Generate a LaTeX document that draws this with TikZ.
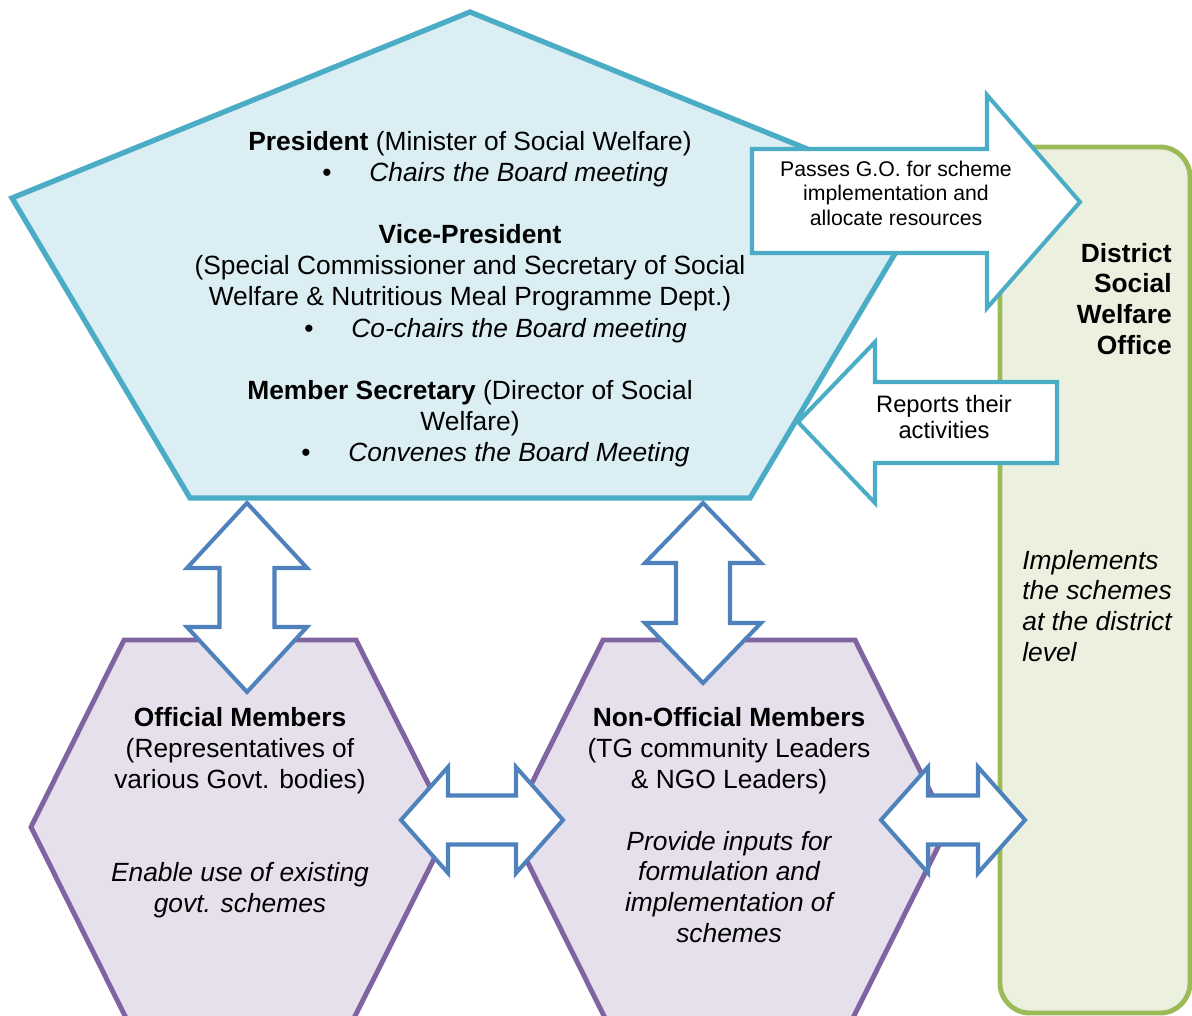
\documentclass[tikz,border=0pt]{standalone}
\usepackage{fontspec}
\setmainfont{Liberation Sans}
\definecolor{boardline}{HTML}{4BACC6}
\definecolor{boardfill}{HTML}{DBEEF4}
\definecolor{memberline}{HTML}{8064A2}
\definecolor{memberfill}{HTML}{E5E0EC}
\definecolor{officeline}{HTML}{9BBB59}
\definecolor{officefill}{HTML}{EBF1DE}
\definecolor{linkline}{HTML}{4F81BD}

\begin{document}
\begin{tikzpicture}[x=0.02cm,y=-0.02cm]

	\tikzset{
	  board/.style={draw=boardline,fill=boardfill,line width=3pt},
	  member/.style={draw=memberline,fill=memberfill,line width=2.8pt},
	  office/.style={draw=officeline,fill=officefill,line width=2.8pt,rounded corners=17pt},
	  flow/.style={draw=boardline,fill=white,line width=2.3pt},
	  link/.style={draw=linkline,fill=white,line width=2.3pt},
	  txt/.style={inner sep=0pt,align=center,font=\fontsize{15}{17.6}\selectfont},
	  item/.style={txt,anchor=west,font=\fontsize{15}{17.6}\selectfont\itshape},
	}
	\useasboundingbox (0,0) rectangle (1192,1016);
	\clip (0,0) rectangle (1192,1016);
	% shapes
	\draw[board] (470,12) -- (928,198) -- (750,498) -- (190,498) -- (12,198) -- cycle;
	\draw[office] (1000,147) rectangle (1190,1013);
	\draw[member] (124,640) -- (356,640) -- (450,827) -- (348,1030) -- (132,1030) -- (31,827) -- cycle;
	\draw[member] (603,640) -- (855,640) -- (948,827) -- (847,1030) -- (611,1030) -- (510,827) -- cycle;
	% board <-> district office
	\draw[flow] (752,149) -- (987,149) -- (987,95) -- (1080,202) -- (987,308) -- (987,253) -- (752,253) -- cycle;
	\draw[flow] (1057,382) -- (875,382) -- (875,342) -- (798,422) -- (875,503) -- (875,463) -- (1057,463) -- cycle;
	% two way links
	\draw[link] (247,503) -- ++(60,65) -- ++(-32.5,0) -- ++(0,59) -- ++(32.5,0) -- ++(-60,65) -- ++(-60,-65) -- ++(32.5,0) -- ++(0,-59) -- ++(-32.5,0) -- cycle;
	\draw[link] (703,503) -- ++(58,60) -- ++(-31,0) -- ++(0,60) -- ++(31,0) -- ++(-58,60) -- ++(-58,-60) -- ++(31,0) -- ++(0,-60) -- ++(-31,0) -- cycle;
	\draw[link] (401,820) -- ++(47,-53) -- ++(0,28.5) -- ++(68,0) -- ++(0,-28.5) -- ++(47,53) -- ++(-47,53) -- ++(0,-28.5) -- ++(-68,0) -- ++(0,28.5) -- cycle;
	\draw[link] (881,820) -- ++(47,-53) -- ++(0,28.5) -- ++(50,0) -- ++(0,-28.5) -- ++(47,53) -- ++(-47,53) -- ++(0,-28.5) -- ++(-50,0) -- ++(0,28.5) -- cycle;

	% board members
	\node[txt] (president) at (470,144) {\textbf{President} (Minister of Social Welfare)};
	\node[item] (chairs) at (369,175) {\llap{\upshape\textbullet\hspace{21.5pt}}Chairs the Board meeting};
	\node[txt] (vicepres) at (470,268) {\textbf{Vice-President}\\(Special Commissioner and Secretary of Social\\Welfare \& Nutritious Meal Programme Dept.)};
	\node[item] (cochairs) at (351,331) {\llap{\upshape\textbullet\hspace{21.5pt}}Co-chairs the Board meeting};
	\node[txt] (memsec) at (470,408) {\textbf{Member Secretary} (Director of Social\\Welfare)};
	\node[item] (convenes) at (348,455) {\llap{\upshape\textbullet\hspace{21.5pt}}Convenes the Board Meeting};

	\node[txt,font=\fontsize{12.1}{13.9}\selectfont] (passes) at (896,193) {Passes G.O. for scheme\\implementation and\\allocate resources};
	\node[txt,font=\fontsize{13.5}{15.3}\selectfont] (reports) at (944,417) {Reports their\\activities};

	\node[txt,align=right,anchor=east] (district) at (1172,299) {\textbf{District}\\\textbf{Social}\\\textbf{Welfare}\\\textbf{Office}};
	\node[txt,align=left,anchor=west] (implements) at (1022,606) {\itshape Implements\\\itshape the schemes\\\itshape at the district\\\itshape level};

	\node[txt] (official) at (240,751) {\textbf{Official Members}\\(Representatives of\\various Govt. bodies)};
	\node[txt] (offrole) at (240,890) {\itshape Enable use of existing\\\itshape govt. schemes};
	\node[txt] (nonofficial) at (729,751) {\textbf{Non-Official Members}\\(TG community Leaders\\\& NGO Leaders)};
	\node[txt] (nonrole) at (729,887) {\itshape Provide inputs for\\\itshape formulation and\\\itshape implementation of\\\itshape schemes};

\end{tikzpicture}
\end{document}
